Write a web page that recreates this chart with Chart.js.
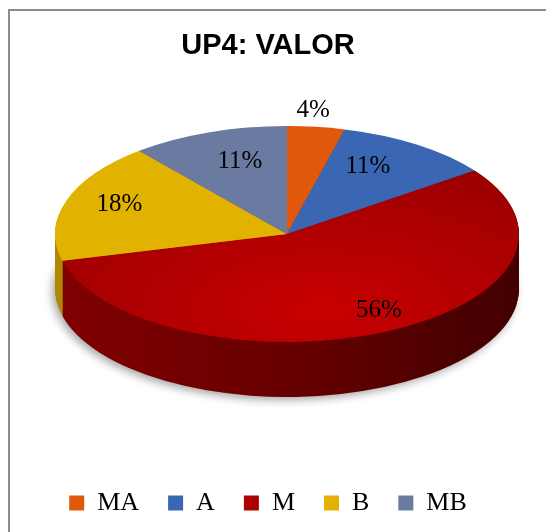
<!DOCTYPE html>
<html>
<head>
<meta charset="utf-8">
<script src="https://cdn.jsdelivr.net/npm/chart.js@4"></script>
<style>
  body { margin: 0; background: #fff; }
  #wrap { position: relative; width: 546px; height: 532px; overflow: hidden; }
  #frame { position: absolute; left: 8px; top: 9px; width: 560px; height: 540px;
           border-top: 2px solid #8c8c8c; border-left: 2px solid #8c8c8c; }
  canvas { position: absolute; left: 0; top: 0; }
</style>
</head>
<body>
<div id="wrap">
  <div id="frame"></div>
  <canvas id="pie" width="546" height="532"></canvas>
</div>
<script>
const labels = ['MA', 'A', 'M', 'B', 'MB'];
const values = [4, 11, 56, 18, 11];

const topColors = ['#e0580c', '#3a66b4', '#ad0000', '#e2b200', '#6a7aa0'];
const sideColors = ['#a03a00', '#24427a', '#6a0000', '#b08800', '#46506c'];
// where each percentage label sits: fraction of the radius, and a lift in px
const labelReach = [0.9, 0.62, 0.93, 0.76, 0.6];
const labelLift = [27, 12, 14, 4, 12];

// ellipse of the tilted top face
const CX = 287, CY = 234, RX = 232, RY = 108, DEPTH = 55;

function place(ctx, arc) {
  const R = arc.outerRadius;
  ctx.translate(CX, CY);
  ctx.scale(RX / R, RY / R);
  ctx.translate(-arc.x, -arc.y);
}

function sideFill(ctx, arc, i) {
  if (i !== 2) return sideColors[i];
  const R = arc.outerRadius;
  const g = ctx.createLinearGradient(arc.x - R, 0, arc.x + R, 0);
  g.addColorStop(0, '#800000');
  g.addColorStop(0.5, '#680000');
  g.addColorStop(1, '#420000');
  return g;
}

function topFill(context) {
  const i = context.dataIndex;
  const area = context.chart.chartArea;
  if (i !== 2 || !area) return topColors[i];
  const cx = (area.left + area.right) / 2, cy = (area.top + area.bottom) / 2;
  const R = Math.min(area.right - area.left, area.bottom - area.top) / 2;
  const g = context.chart.ctx.createRadialGradient(cx + 0.15 * R, cy + 0.7 * R, 0, cx + 0.15 * R, cy + 0.7 * R, 1.6 * R);
  g.addColorStop(0, '#c80000');
  g.addColorStop(1, '#960000');
  return g;
}

const tilt = {
  id: 'tilt',
  beforeDatasetsDraw(chart) {
    const ctx = chart.ctx;
    const arcs = chart.getDatasetMeta(0).data;
    const a0 = arcs[0];
    // side wall, stacked from the bottom up
    for (let d = DEPTH; d > 0; d--) {
      ctx.save();
      ctx.translate(0, d);
      place(ctx, a0);
      if (d === DEPTH) {
        ctx.shadowColor = 'rgba(0,0,0,0.35)';
        ctx.shadowBlur = 8;
        ctx.shadowOffsetX = -3;
        ctx.shadowOffsetY = 3;
      }
      arcs.forEach((arc, i) => {
        ctx.beginPath();
        ctx.moveTo(arc.x, arc.y);
        ctx.arc(arc.x, arc.y, arc.outerRadius, arc.startAngle, arc.endAngle);
        ctx.closePath();
        ctx.fillStyle = sideFill(ctx, arc, i);
        ctx.fill();
      });
      ctx.restore();
    }
    ctx.save();
    place(ctx, a0);
  },
  afterDatasetsDraw(chart) {
    const ctx = chart.ctx;
    ctx.restore();
    const arcs = chart.getDatasetMeta(0).data;
    const total = values.reduce((s, v) => s + v, 0);
    ctx.save();
    ctx.font = '25px "Liberation Serif"';
    ctx.fillStyle = '#000';
    ctx.textAlign = 'center';
    ctx.textBaseline = 'middle';
    arcs.forEach((arc, i) => {
      const mid = (arc.startAngle + arc.endAngle) / 2;
      const f = labelReach[i];
      const x = CX + f * RX * Math.cos(mid);
      const y = CY + f * RY * Math.sin(mid) - labelLift[i];
      ctx.fillText(Math.round(values[i] / total * 100) + '%', x, y);
    });
    ctx.restore();
  }
};

new Chart(document.getElementById('pie'), {
  type: 'pie',
  data: {
    labels: labels,
    datasets: [{ data: values, backgroundColor: topFill, borderWidth: 0 }]
  },
  options: {
    responsive: false,
    animation: false,
    layout: { padding: { left: 0, right: 10, top: 0, bottom: 6 } },
    plugins: {
      title: {
        display: true,
        text: 'UP4: VALOR',
        color: '#000',
        font: { family: '"Liberation Sans"', size: 29, weight: 'bold' },
        padding: { top: 29, bottom: 10 }
      },
      legend: {
        position: 'bottom',
        labels: {
          boxWidth: 15,
          boxHeight: 15,
          color: '#000',
          padding: 29,
          font: { family: '"Liberation Serif"', size: 26 },
          generateLabels(chart) {
            return labels.map((t, i) => ({
              text: t, fillStyle: topColors[i], strokeStyle: topColors[i],
              lineWidth: 0, hidden: false, index: i
            }));
          }
        }
      },
      tooltip: { enabled: false }
    }
  },
  plugins: [tilt]
});
</script>
</body>
</html>
